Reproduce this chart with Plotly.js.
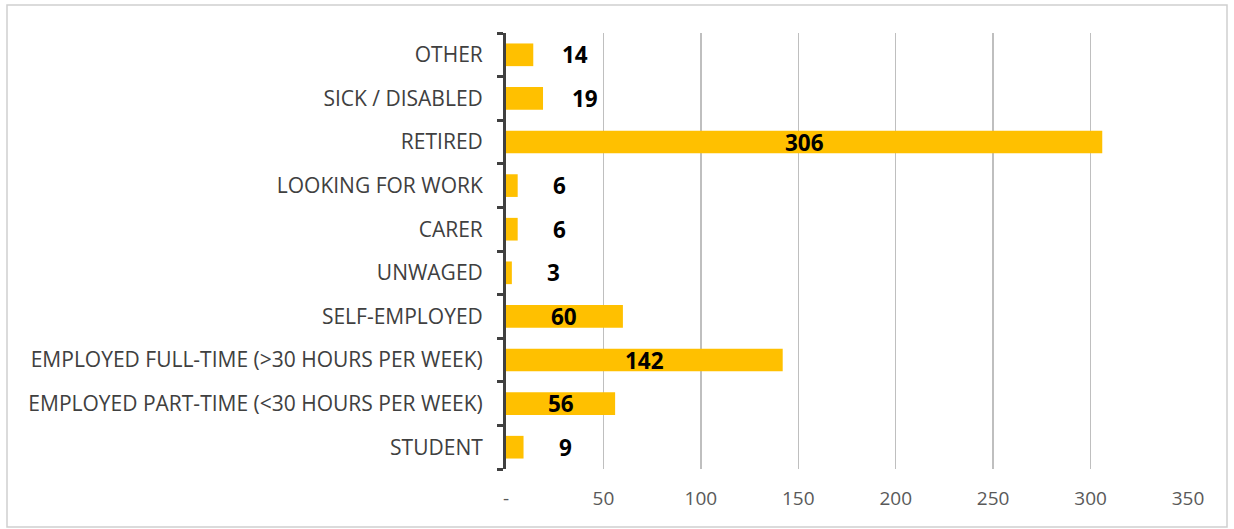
<!DOCTYPE html>
<html>
<head>
<meta charset="utf-8">
<script src="https://cdn.plot.ly/plotly-3.0.1.min.js"></script>
<style>html,body{margin:0;padding:0;background:#fff;}#chart{width:1234px;height:529px;}</style>
</head>
<body>
<div id="chart"></div>
<script>
const categories = ["STUDENT","EMPLOYED PART-TIME (<30 HOURS PER WEEK)","EMPLOYED FULL-TIME (>30 HOURS PER WEEK)","SELF-EMPLOYED","UNWAGED","CARER","LOOKING FOR WORK","RETIRED","SICK / DISABLED","OTHER"];
const counts = [9,56,142,60,3,6,6,306,19,14];
const xTickVals = [0,50,100,150,200,250,300,350];
const xTickText = ["-","50","100","150","200","250","300","350"];

const W = 1234, H = 529;
const L = 506, R = 46, T = 33, B = 60;
const pw = W - L - R, ph = H - T - B;

const trace = {
  type: 'bar', orientation: 'h',
  y: categories, x: counts,
  marker: {color: '#FFC000'},
  hoverinfo: 'skip'
};

const annotations = counts.map((v, i) => ({
  x: v >= 50 ? v / 2 : v, y: categories[i],
  xref: 'x', yref: 'y',
  text: '<b>' + v + '</b>',
  showarrow: false,
  xanchor: 'center', yanchor: 'middle',
  xshift: v >= 50 ? 0 : 42,
  yshift: 0,
  font: {family: 'Open Sans, sans-serif', size: 22.5, color: '#000'}
}));

const layout = {
  width: W, height: H,
  margin: {l: L, r: R, t: T, b: B, pad: 0},
  paper_bgcolor: '#fff', plot_bgcolor: '#fff',
  showlegend: false,
  bargap: 0.48,
  font: {family: 'Open Sans, sans-serif', color: '#404040'},
  xaxis: {
    range: [0, 350],
    tickvals: xTickVals, ticktext: xTickText,
    showgrid: true, gridcolor: '#BFBFBF', gridwidth: 1.5,
    zeroline: false, showline: false, ticks: '',
    tickfont: {size: 19, color: '#595959'},
    ticklabelstandoff: 16,
    fixedrange: true
  },
  yaxis: {
    type: 'category',
    categoryorder: 'array', categoryarray: categories,
    showline: true, linecolor: '#404040', linewidth: 3,
    ticks: 'outside', tickson: 'boundaries', ticklen: 6, tickwidth: 3, tickcolor: '#404040',
    tickfont: {size: 21, color: '#404040'},
    ticklabelstandoff: 16,
    showgrid: false, zeroline: false,
    fixedrange: true
  },
  annotations: annotations,
  shapes: [{
    type: 'rect', xref: 'paper', yref: 'paper',
    x0: (7 - L) / pw, x1: (1227 - L) / pw,
    y0: (H - B - 527) / ph, y1: 1 + (T - 5) / ph,
    line: {color: '#D0D0D0', width: 1.5}, fillcolor: 'rgba(0,0,0,0)', layer: 'below'
  }]
};

Plotly.newPlot('chart', [trace], layout, {displayModeBar: false, staticPlot: true});
</script>
</body>
</html>
